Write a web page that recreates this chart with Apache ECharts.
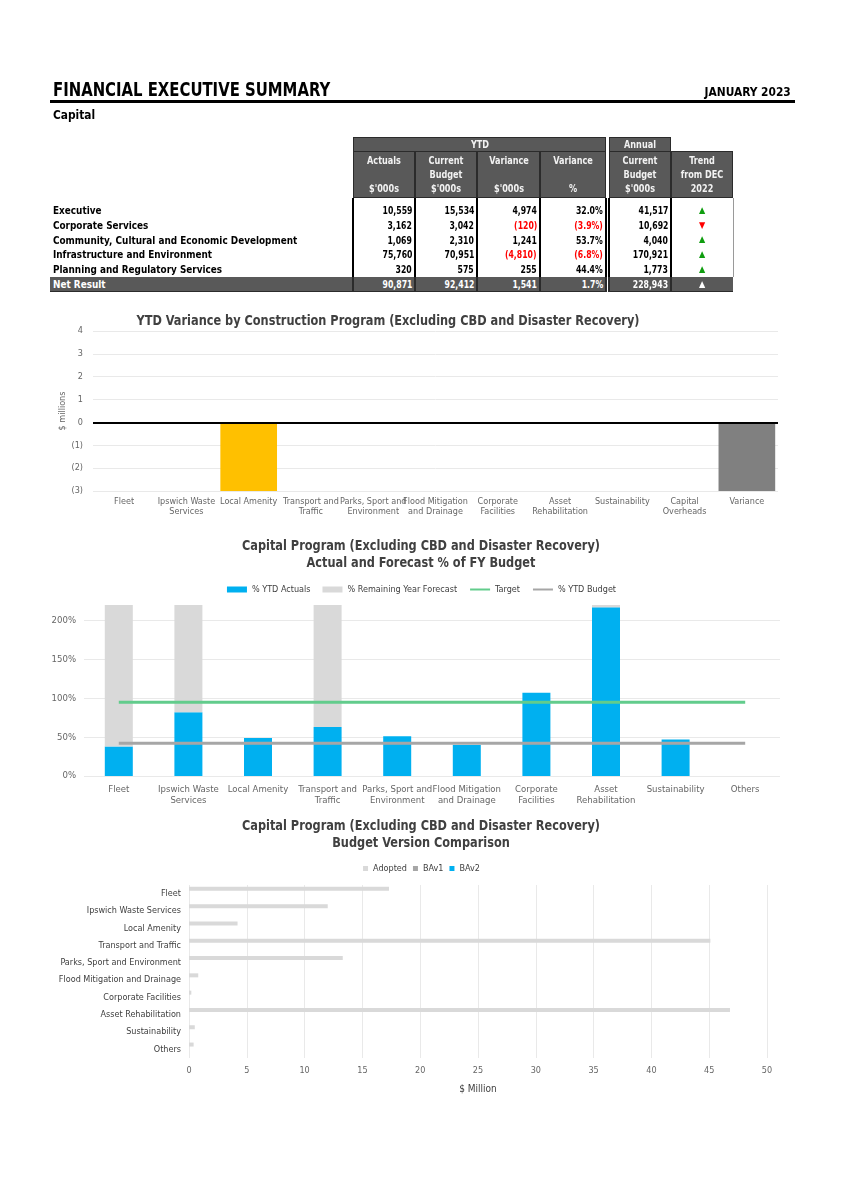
<!DOCTYPE html>
<html><head><meta charset="utf-8">
<script src="https://cdn.jsdelivr.net/npm/echarts@6/dist/echarts.min.js"></script>
<style>
html,body{margin:0;padding:0;background:#fff;}
#page{position:relative;width:843px;height:1193px;overflow:hidden;}
.abs{position:absolute;white-space:nowrap;}
#chart{position:absolute;left:0;top:0;width:843px;height:1193px;}
</style></head><body><div id="page"><div id="chart"></div></div>
<script>
// ---------- table data ----------
const tableRows = ['Executive','Corporate Services','Community, Cultural and Economic Development','Infrastructure and Environment','Planning and Regulatory Services'];
const ytdActuals = [10559,3162,1069,75760,320];
const ytdBudget = [15534,3042,2310,70951,575];
const ytdVariance = [4974,-120,1241,-4810,255];
const ytdVariancePct = [32.0,-3.9,53.7,-6.8,44.4];
const annualBudget = [41517,10692,4040,170921,1773];
const trendFromDec = ['up','down','up','up','up'];
const netResultLabel = 'Net Result';
const netResultValues = [90871,92412,1541,1.7,228943];
const netResultTrend = 'up';
const columnHeaders = [['Actuals','',"$'000s"],['Current','Budget',"$'000s"],['Variance','',"$'000s"],['Variance','','%'],['Current','Budget',"$'000s"],['Trend','from DEC','2022']];

// ---------- chart 1 data ----------
const varianceCategories = ['Fleet','Ipswich Waste Services','Local Amenity','Transport and Traffic','Parks, Sport and Environment','Flood Mitigation and Drainage','Corporate Facilities','Asset Rehabilitation','Sustainability','Capital Overheads','Variance'];
const varianceTickLabels = ['Fleet','Ipswich Waste\nServices','Local Amenity','Transport and\nTraffic','Parks, Sport and\nEnvironment','Flood Mitigation\nand Drainage','Corporate\nFacilities','Asset\nRehabilitation','Sustainability','Capital\nOverheads','Variance'];
const varianceValues = [0,0,-3.2,0,0,0,0,0,0,0,-3.2];

// ---------- chart 2 data ----------
const programCategories = ['Fleet','Ipswich Waste Services','Local Amenity','Transport and Traffic','Parks, Sport and Environment','Flood Mitigation and Drainage','Corporate Facilities','Asset Rehabilitation','Sustainability','Others'];
const programTickLabels = ['Fleet','Ipswich Waste\nServices','Local Amenity','Transport and\nTraffic','Parks, Sport and\nEnvironment','Flood Mitigation\nand Drainage','Corporate\nFacilities','Asset\nRehabilitation','Sustainability','Others'];
const pctYtdActuals = [38,82,49,63,51,40,107,217,47,0];
const pctRemainingForecast = [260,240,0,230,0,0,0,6,0,0];
const pctTarget = [95,95,95,95,95,95,95,95,95,95];
const pctYtdBudget = [42,42,42,42,42,42,42,42,42,42];

// ---------- chart 3 data ----------
const budgetCategories = ['Fleet','Ipswich Waste Services','Local Amenity','Transport and Traffic','Parks, Sport and Environment','Flood Mitigation and Drainage','Corporate Facilities','Asset Rehabilitation','Sustainability','Others'];
const budgetAdopted = [17.3,12.0,4.2,45.1,13.3,0.8,0.2,46.8,0.5,0.4];
const budgetBAv1 = [0,0,0,0,0,0,0,0,0,0];
const budgetBAv2 = [0,0,0,0,0,0,0,0,0,0];

// ---------- layout helpers ----------
const FONT = '"Liberation Sans Narrow", "DejaVu Sans Condensed", Roboto, sans-serif';
const page = document.getElementById('page');
function addText(txt, x, yc, o) {
  o = o || {};
  const d = document.createElement('div');
  d.className = 'abs';
  d.textContent = txt;
  const fs = o.size || 11;
  d.style.fontFamily = FONT;
  d.style.fontSize = fs + 'px';
  d.style.lineHeight = fs + 'px';
  d.style.height = fs + 'px';
  d.style.top = (yc - fs / 2) + 'px';
  d.style.fontWeight = o.weight || 'bold';
  d.style.color = o.color || '#000';
  let origin = 'left center';
  if (o.align === 'right') { d.style.right = (843 - x) + 'px'; d.style.textAlign = 'right'; origin = 'right center'; }
  else if (o.align === 'center') { d.style.left = (x - 300) + 'px'; d.style.width = '600px'; d.style.textAlign = 'center'; origin = 'center center'; }
  else d.style.left = x + 'px';
  if (o.sx) { d.style.transform = 'scaleX(' + o.sx + ')'; d.style.transformOrigin = origin; }
  page.appendChild(d);
  return d;
}
function addRect(x, y, w, h, bg, border) {
  const d = document.createElement('div');
  d.className = 'abs';
  d.style.left = x + 'px'; d.style.top = y + 'px';
  d.style.width = w + 'px'; d.style.height = h + 'px';
  d.style.background = bg;
  d.style.boxSizing = 'border-box';
  if (border) d.style.border = border;
  page.appendChild(d);
  return d;
}
function fmtNum(v) { const s = Math.abs(v).toLocaleString('en-US'); return v < 0 ? '(' + s + ')' : s; }
function fmtPct(v) { const s = Math.abs(v).toFixed(1) + '%'; return v < 0 ? '(' + s + ')' : s; }

// ---------- page header ----------
addText('FINANCIAL EXECUTIVE SUMMARY', 53, 89.5, {size: 19, sx: 0.87});
addText('JANUARY 2023', 791, 91, {size: 13, align: 'right', sx: 0.91});
addRect(50, 99.5, 745, 3.6, '#000');
addText('Capital', 53, 114, {size: 13, sx: 0.91});

// ---------- table ----------
const cols = [[353,415],[415,477],[477,540],[540,606],[609,671],[671,733]];
const HDR = '#595959', HDRB = '1px solid #2b2b2b', HTXT = '#f2f2f2';
const SX_HDR = 0.86, SX_NUM = 0.82, SX_LBL = 0.94;
addRect(353, 137, 253, 14.5, HDR, HDRB);
addRect(609, 137, 62, 14.5, HDR, HDRB);
cols.forEach(c => addRect(c[0], 151, c[1] - c[0], 47, HDR, HDRB));
[353,415,477,540,606,609,671].forEach(x => addRect(x - 0.75, 198, 1.5, 79, '#000'));
addRect(732.5, 198, 1, 79, '#9a9a9a');
addRect(50, 277, 556.75, 14.5, HDR);
addRect(608.25, 277, 125, 14.5, HDR);
[353,415,477,540,606,609,671].forEach(x => addRect(x - 0.75, 277, 1.5, 14.5, '#2b2b2b'));
addRect(50, 290.5, 557, 1, '#2b2b2b');
addRect(608.25, 290.5, 125, 1, '#2b2b2b');
addText('YTD', 479.5, 144.3, {size: 10.5, color: HTXT, align: 'center', sx: SX_HDR});
addText('Annual', 640, 144.3, {size: 10.5, color: HTXT, align: 'center', sx: SX_HDR});
cols.forEach((c, i) => {
  columnHeaders[i].forEach((t, k) => { if (t) addText(t, (c[0] + c[1]) / 2, 160 + k * 14, {size: 10.5, color: HTXT, align: 'center', sx: SX_HDR}); });
});
const ROW0 = 203, RH = 14.7;
function trendGlyph(t, x, yc, color) {
  addText(t === 'up' ? '▲' : '▼', x, yc, {size: 9, color: color || (t === 'up' ? '#0f9d0f' : '#ff0000'), align: 'center', weight: 'normal'});
}
tableRows.forEach((name, r) => {
  const yc = ROW0 + r * RH + RH / 2;
  addText(name, 53, yc, {size: 10.5, sx: SX_LBL});
  const vals = [fmtNum(ytdActuals[r]), fmtNum(ytdBudget[r]), fmtNum(ytdVariance[r]), fmtPct(ytdVariancePct[r]), fmtNum(annualBudget[r])];
  const neg = [false, false, ytdVariance[r] < 0, ytdVariancePct[r] < 0, false];
  vals.forEach((v, i) => addText(v, cols[i][1] - 3, yc, {size: 10.5, align: 'right', color: neg[i] ? '#ff0000' : '#000', sx: SX_NUM}));
  trendGlyph(trendFromDec[r], 702, yc);
});
{
  const yc = 284;
  addText(netResultLabel, 53, yc, {size: 10.5, color: '#fff', sx: SX_LBL});
  const vals = [fmtNum(netResultValues[0]), fmtNum(netResultValues[1]), fmtNum(netResultValues[2]), fmtPct(netResultValues[3]), fmtNum(netResultValues[4])];
  vals.forEach((v, i) => addText(v, cols[i][1] - 3, yc, {size: 10.5, align: 'right', color: '#fff', sx: SX_NUM}));
  trendGlyph(netResultTrend, 702, yc, '#fff');
}

// ---------- chart titles ----------
const TITLE = '#404040', SX_T = 0.9;
addText('YTD Variance by Construction Program (Excluding CBD and Disaster Recovery)', 387.5, 320, {size: 14, color: TITLE, align: 'center', sx: SX_T});
addText('Capital Program (Excluding CBD and Disaster Recovery)', 420.5, 545, {size: 14, color: TITLE, align: 'center', sx: SX_T});
addText('Actual and Forecast % of FY Budget', 420.5, 562, {size: 14, color: TITLE, align: 'center', sx: SX_T});
addText('Capital Program (Excluding CBD and Disaster Recovery)', 420.5, 824.5, {size: 14, color: TITLE, align: 'center', sx: SX_T});
addText('Budget Version Comparison', 420.5, 842, {size: 14, color: TITLE, align: 'center', sx: SX_T});

// ---------- charts ----------
const AX = '#666666', GRIDC = '#e9e9e9';
const BLUE = '#00B0F0', LGRAY = '#D9D9D9', MGRAY = '#A6A6A6', GREEN = '#62CC8C', YELLOW = '#FFC000', DGRAY = '#808080';
const chart = echarts.init(document.getElementById('chart'), null, {renderer: 'canvas'});
const lbl = {fontFamily: FONT, fontSize: 9, color: AX};
const hideSymbol = {opacity: 0, color: 'rgba(0,0,0,0)', borderWidth: 0};
chart.setOption({
  animation: false,
  textStyle: {fontFamily: FONT},
  grid: [
    {left: 93, top: 331, width: 685, height: 160},
    {left: 84, top: 605, width: 696, height: 171},
    {left: 189, top: 885, width: 578, height: 173}
  ],
  legend: [
    {data: [{name: '% YTD Actuals', icon: 'rect'}, {name: '% Remaining Year Forecast', icon: 'rect'}, {name: 'Target', itemStyle: hideSymbol}, {name: '% YTD Budget', itemStyle: hideSymbol}],
     left: 'center', top: 580, itemWidth: 20, itemHeight: 6, itemGap: 12, textStyle: {fontFamily: FONT, fontSize: 9, color: '#404040'}, selectedMode: false},
    {data: [{name: 'Adopted', icon: 'rect'}, {name: 'BAv1', icon: 'rect'}, {name: 'BAv2', icon: 'rect'}],
     left: 'center', top: 859, itemWidth: 5, itemHeight: 5, itemGap: 6, textStyle: {fontFamily: FONT, fontSize: 9, color: '#404040'}, selectedMode: false}
  ],
  xAxis: [
    {gridIndex: 0, type: 'category', data: varianceTickLabels, axisLine: {show: false}, axisTick: {show: false},
     axisLabel: Object.assign({interval: 0, margin: 6, lineHeight: 10}, lbl)},
    {gridIndex: 1, type: 'category', data: programTickLabels, axisLine: {show: false}, axisTick: {show: false},
     axisLabel: Object.assign({interval: 0, margin: 8, lineHeight: 11}, lbl, {fontSize: 9.5})},
    {gridIndex: 2, type: 'value', min: 0, max: 50, interval: 5, axisLine: {show: false}, axisTick: {show: false},
     axisLabel: Object.assign({margin: 8}, lbl), splitLine: {lineStyle: {color: GRIDC}},
     name: '$ Million', nameLocation: 'middle', nameGap: 26, nameTextStyle: {fontFamily: FONT, fontSize: 10, color: '#404040'}}
  ],
  yAxis: [
    {gridIndex: 0, type: 'value', min: -3, max: 4, interval: 1, axisLine: {show: false}, axisTick: {show: false},
     axisLabel: Object.assign({margin: 10, formatter: v => v < 0 ? '(' + (-v) + ')' : String(v)}, lbl),
     splitLine: {lineStyle: {color: GRIDC}},
     name: '$ millions', nameLocation: 'middle', nameGap: 26, nameMoveOverlap: false, nameTextStyle: {fontFamily: FONT, fontSize: 9, color: AX}},
    {gridIndex: 1, type: 'value', min: 0, max: 220, interval: 50, axisLine: {show: false}, axisTick: {show: false},
     axisLabel: Object.assign({margin: 8, showMaxLabel: false, formatter: v => v > 200 ? '' : v + '%'}, lbl, {fontSize: 9.5}),
     splitLine: {showMaxLine: false, lineStyle: {color: GRIDC}}},
    {gridIndex: 2, type: 'category', data: budgetCategories, inverse: true, axisLine: {show: false}, axisTick: {show: false},
     axisLabel: Object.assign({margin: 8}, lbl, {color: '#404040'})}
  ],
  series: [
    {type: 'bar', xAxisIndex: 0, yAxisIndex: 0, barWidth: '91%',
     data: varianceValues.map((v, i) => ({value: v, itemStyle: {color: varianceCategories[i] === 'Variance' ? DGRAY : YELLOW}})),
     markLine: {silent: true, symbol: 'none', label: {show: false}, lineStyle: {color: '#000', width: 2, type: 'solid'}, data: [{yAxis: 0}]}},
    {name: '% YTD Actuals', type: 'bar', stack: 'pct', xAxisIndex: 1, yAxisIndex: 1, barWidth: 28, data: pctYtdActuals, itemStyle: {color: BLUE}},
    {name: '% Remaining Year Forecast', type: 'bar', stack: 'pct', xAxisIndex: 1, yAxisIndex: 1, barWidth: 28, data: pctRemainingForecast, itemStyle: {color: LGRAY}},
    {name: 'Target', type: 'line', xAxisIndex: 1, yAxisIndex: 1, data: pctTarget, symbol: 'none', lineStyle: {color: GREEN, width: 3}, itemStyle: {color: GREEN}},
    {name: '% YTD Budget', type: 'line', xAxisIndex: 1, yAxisIndex: 1, data: pctYtdBudget, symbol: 'none', lineStyle: {color: MGRAY, width: 3}, itemStyle: {color: MGRAY}},
    {name: 'Adopted', type: 'bar', xAxisIndex: 2, yAxisIndex: 2, barWidth: 4, barGap: '20%', data: budgetAdopted, itemStyle: {color: LGRAY}},
    {name: 'BAv1', type: 'bar', xAxisIndex: 2, yAxisIndex: 2, barWidth: 4, barGap: '20%', data: budgetBAv1, itemStyle: {color: MGRAY}},
    {name: 'BAv2', type: 'bar', xAxisIndex: 2, yAxisIndex: 2, barWidth: 4, barGap: '20%', data: budgetBAv2, itemStyle: {color: BLUE}}
  ]
});
</script></body></html>
